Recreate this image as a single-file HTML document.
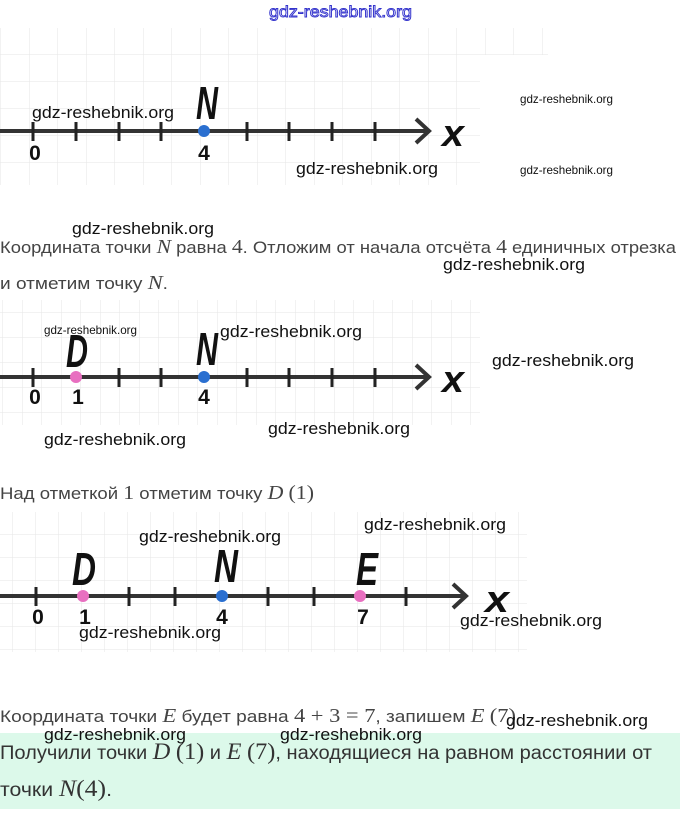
<!DOCTYPE html>
<html><head><meta charset="utf-8"><style>
body{margin:0;background:#fff;}
svg text{font-family:"Liberation Sans",sans-serif;}
.wm{fill:#111;}
.tx{fill:#444;}
.m{font-family:"Liberation Serif",serif;font-style:italic;}
.mn{font-family:"Liberation Serif",serif;}
.lab{font-size:21px;font-weight:bold;fill:#111;text-anchor:middle;}
.big{font-weight:bold;font-style:italic;fill:#111;text-anchor:middle;}
</style></head><body>
<svg width="680" height="809" viewBox="0 0 680 809" xmlns="http://www.w3.org/2000/svg">
<defs>
<pattern id="g1" width="28.5" height="27" patternUnits="userSpaceOnUse" x="1" y="1"><path d="M28.5 0V27M0 27H28.5" fill="none" stroke="#e6e6e6" stroke-width="1"/></pattern>
<pattern id="g2" width="19.5" height="25" patternUnits="userSpaceOnUse" x="3" y="313"><path d="M19.5 0V25M0 25H19.5" fill="none" stroke="#e6e6e6" stroke-width="1"/></pattern>
<pattern id="g3" width="23" height="23" patternUnits="userSpaceOnUse" x="13" y="512"><path d="M23 0V23M0 23H23" fill="none" stroke="#e6e6e6" stroke-width="1"/></pattern>
</defs>
<rect width="680" height="809" fill="#fff"/>
<!-- figure 1 -->
<rect x="0" y="28" width="548" height="27" fill="url(#g1)"/>
<rect x="0" y="55" width="480" height="130" fill="url(#g1)"/>
<text x="269" y="17" style="font-size:16px" fill="#fff" stroke="#3333cc" stroke-width="0.9" textLength="143" lengthAdjust="spacingAndGlyphs">gdz-reshebnik.org</text>
<line x1="0" y1="131" x2="427" y2="131" stroke="#333" stroke-width="4"/>
<polyline points="416,119 429,131 416,143" fill="none" stroke="#333" stroke-width="4"/>
<g stroke="#222" stroke-width="3">
<line x1="33" y1="122" x2="33" y2="141"/><line x1="76" y1="122" x2="76" y2="141"/><line x1="119" y1="122" x2="119" y2="141"/><line x1="161" y1="122" x2="161" y2="141"/><line x1="247" y1="122" x2="247" y2="141"/><line x1="289" y1="122" x2="289" y2="141"/><line x1="332" y1="122" x2="332" y2="141"/><line x1="375" y1="122" x2="375" y2="141"/>
</g>
<circle cx="204" cy="131" r="6" fill="#2a6fd0"/>
<text x="35" y="160" class="lab">0</text><text x="204" y="160" class="lab">4</text>
<text x="196" y="119" class="big" style="font-size:46px;text-anchor:start" textLength="22" lengthAdjust="spacingAndGlyphs">N</text>
<text x="442" y="146" class="big" style="font-size:38px;text-anchor:start" textLength="22" lengthAdjust="spacingAndGlyphs">x</text>
<text x="32" y="118" class="wm" style="font-size:17px" textLength="142" lengthAdjust="spacingAndGlyphs">gdz-reshebnik.org</text>
<text x="296" y="174" class="wm" style="font-size:17px" textLength="142" lengthAdjust="spacingAndGlyphs">gdz-reshebnik.org</text>
<text x="520" y="103" class="wm" style="font-size:12px" textLength="93" lengthAdjust="spacingAndGlyphs">gdz-reshebnik.org</text>
<text x="520" y="174" class="wm" style="font-size:12px" textLength="93" lengthAdjust="spacingAndGlyphs">gdz-reshebnik.org</text>
<!-- text 1 -->
<text x="72" y="234" class="wm" style="font-size:17px" textLength="142" lengthAdjust="spacingAndGlyphs">gdz-reshebnik.org</text>
<text x="0" y="253" class="tx" style="font-size:17px" textLength="676" lengthAdjust="spacingAndGlyphs">Координата точки <tspan class="m" style="font-size:20px">N</tspan> равна <tspan class="mn" style="font-size:20px">4</tspan>. Отложим от начала отсчёта <tspan class="mn" style="font-size:20px">4</tspan> единичных отрезка</text>
<text x="443" y="270" class="wm" style="font-size:17px" textLength="142" lengthAdjust="spacingAndGlyphs">gdz-reshebnik.org</text>
<text x="0" y="289" class="tx" style="font-size:17px" textLength="168" lengthAdjust="spacingAndGlyphs">и отметим точку <tspan class="m" style="font-size:20px">N</tspan>.</text>
<!-- figure 2 -->
<rect x="0" y="300" width="480" height="125" fill="url(#g2)"/>
<line x1="0" y1="377" x2="427" y2="377" stroke="#333" stroke-width="4"/>
<polyline points="416,365 429,377 416,389" fill="none" stroke="#333" stroke-width="4"/>
<g stroke="#222" stroke-width="3">
<line x1="33" y1="368" x2="33" y2="387"/><line x1="119" y1="368" x2="119" y2="387"/><line x1="161" y1="368" x2="161" y2="387"/><line x1="247" y1="368" x2="247" y2="387"/><line x1="289" y1="368" x2="289" y2="387"/><line x1="332" y1="368" x2="332" y2="387"/><line x1="375" y1="368" x2="375" y2="387"/>
</g>
<circle cx="76" cy="377" r="6" fill="#e86fc0"/>
<circle cx="204" cy="377" r="6" fill="#2a6fd0"/>
<text x="35" y="404" class="lab">0</text><text x="78" y="404" class="lab">1</text><text x="204" y="404" class="lab">4</text>
<text x="66" y="367" class="big" style="font-size:46px;text-anchor:start" textLength="22" lengthAdjust="spacingAndGlyphs">D</text>
<text x="196" y="365" class="big" style="font-size:46px;text-anchor:start" textLength="22" lengthAdjust="spacingAndGlyphs">N</text>
<text x="442" y="392" class="big" style="font-size:38px;text-anchor:start" textLength="22" lengthAdjust="spacingAndGlyphs">x</text>
<text x="44" y="334" class="wm" style="font-size:12px" textLength="93" lengthAdjust="spacingAndGlyphs">gdz-reshebnik.org</text>
<text x="220" y="337" class="wm" style="font-size:17px" textLength="142" lengthAdjust="spacingAndGlyphs">gdz-reshebnik.org</text>
<text x="492" y="366" class="wm" style="font-size:17px" textLength="142" lengthAdjust="spacingAndGlyphs">gdz-reshebnik.org</text>
<text x="44" y="445" class="wm" style="font-size:17px" textLength="142" lengthAdjust="spacingAndGlyphs">gdz-reshebnik.org</text>
<text x="268" y="434" class="wm" style="font-size:17px" textLength="142" lengthAdjust="spacingAndGlyphs">gdz-reshebnik.org</text>
<text x="0" y="499" class="tx" style="font-size:17px" textLength="314" lengthAdjust="spacingAndGlyphs">Над отметкой <tspan class="mn" style="font-size:20px">1</tspan> отметим точку <tspan class="m" style="font-size:20px">D</tspan> <tspan class="mn" style="font-size:20px">(1)</tspan></text>
<!-- figure 3 -->
<rect x="0" y="512" width="527" height="140" fill="url(#g3)"/>
<line x1="0" y1="596" x2="465" y2="596" stroke="#333" stroke-width="4"/>
<polyline points="453,584 466,596 453,608" fill="none" stroke="#333" stroke-width="4"/>
<g stroke="#222" stroke-width="3">
<line x1="36" y1="587" x2="36" y2="606"/><line x1="129" y1="587" x2="129" y2="606"/><line x1="175" y1="587" x2="175" y2="606"/><line x1="268" y1="587" x2="268" y2="606"/><line x1="314" y1="587" x2="314" y2="606"/><line x1="406" y1="587" x2="406" y2="606"/>
</g>
<circle cx="83" cy="596" r="6" fill="#e86fc0"/>
<circle cx="222" cy="596" r="6" fill="#2a6fd0"/>
<circle cx="360" cy="596" r="6" fill="#e86fc0"/>
<text x="38" y="624" class="lab">0</text><text x="85" y="624" class="lab">1</text><text x="222" y="624" class="lab">4</text><text x="363" y="624" class="lab">7</text>
<text x="72" y="585" class="big" style="font-size:46px;text-anchor:start" textLength="24" lengthAdjust="spacingAndGlyphs">D</text>
<text x="214" y="582" class="big" style="font-size:46px;text-anchor:start" textLength="24" lengthAdjust="spacingAndGlyphs">N</text>
<text x="356" y="585" class="big" style="font-size:46px;text-anchor:start" textLength="22" lengthAdjust="spacingAndGlyphs">E</text>
<text x="485" y="612" class="big" style="font-size:38px;text-anchor:start" textLength="24" lengthAdjust="spacingAndGlyphs">x</text>
<text x="139" y="542" class="wm" style="font-size:17px" textLength="142" lengthAdjust="spacingAndGlyphs">gdz-reshebnik.org</text>
<text x="364" y="530" class="wm" style="font-size:17px" textLength="142" lengthAdjust="spacingAndGlyphs">gdz-reshebnik.org</text>
<text x="79" y="638" class="wm" style="font-size:17px" textLength="142" lengthAdjust="spacingAndGlyphs">gdz-reshebnik.org</text>
<text x="460" y="626" class="wm" style="font-size:17px" textLength="142" lengthAdjust="spacingAndGlyphs">gdz-reshebnik.org</text>
<!-- text 3 -->
<text x="0" y="722" class="tx" style="font-size:17px" textLength="516" lengthAdjust="spacingAndGlyphs">Координата точки <tspan class="m" style="font-size:20px">E</tspan> будет равна <tspan class="mn" style="font-size:20px">4 + 3 = 7</tspan>, запишем <tspan class="m" style="font-size:20px">E</tspan> <tspan class="mn" style="font-size:20px">(7)</tspan></text>
<rect x="0" y="733" width="680" height="76" fill="#dcf9ea"/>
<text x="506" y="726" class="wm" style="font-size:17px" textLength="142" lengthAdjust="spacingAndGlyphs">gdz-reshebnik.org</text>
<text x="44" y="740" class="wm" style="font-size:17px" textLength="142" lengthAdjust="spacingAndGlyphs">gdz-reshebnik.org</text>
<text x="280" y="740" class="wm" style="font-size:17px" textLength="142" lengthAdjust="spacingAndGlyphs">gdz-reshebnik.org</text>
<text x="0" y="759" style="font-size:19px" fill="#333" textLength="652" lengthAdjust="spacingAndGlyphs">Получили точки <tspan class="m" style="font-size:23px">D</tspan> <tspan class="mn" style="font-size:23px">(1)</tspan> и <tspan class="m" style="font-size:23px">E</tspan> <tspan class="mn" style="font-size:23px">(7)</tspan>, находящиеся на равном расстоянии от</text>
<text x="0" y="796" style="font-size:19px" fill="#333" textLength="112" lengthAdjust="spacingAndGlyphs">точки <tspan class="m" style="font-size:23px">N</tspan><tspan class="mn" style="font-size:23px">(4)</tspan>.</text>
</svg>
</body></html>
